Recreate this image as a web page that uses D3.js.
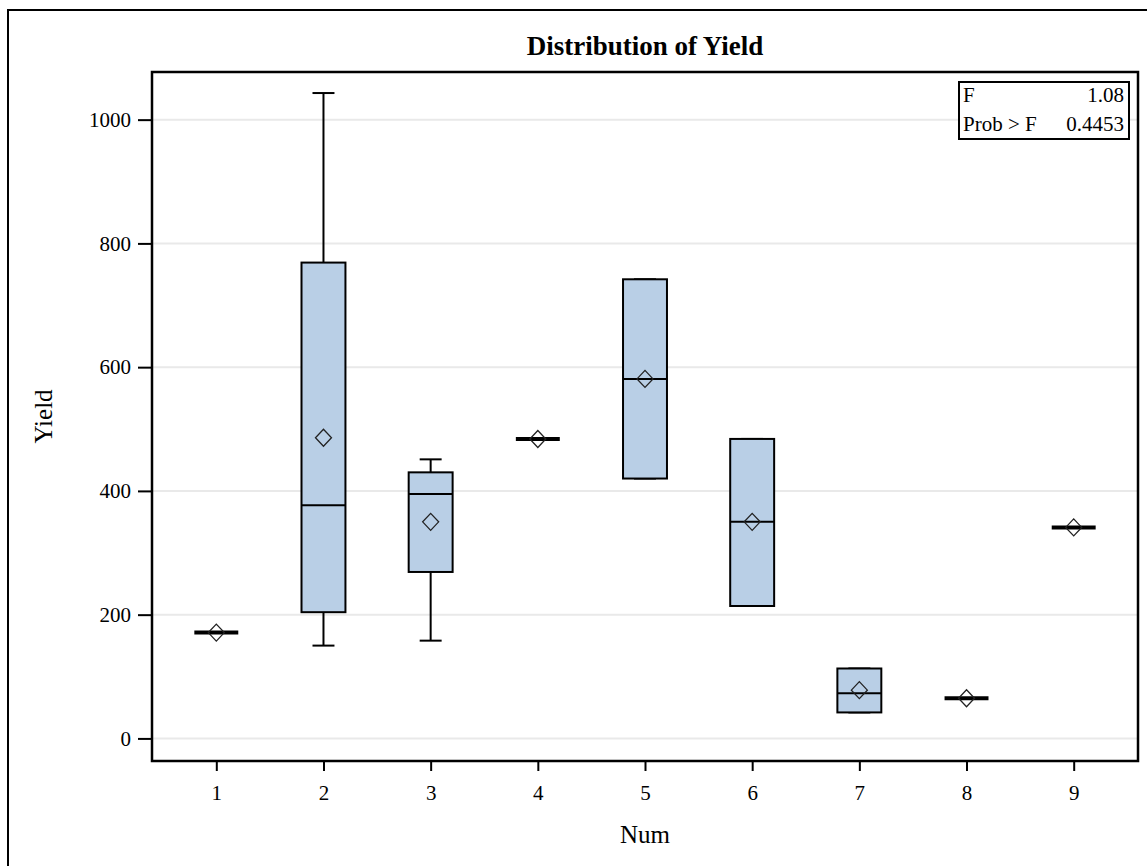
<!DOCTYPE html>
<html>
<head>
<meta charset="utf-8">
<script src="https://cdn.jsdelivr.net/npm/d3@7"></script>
<style>
  html, body { margin: 0; padding: 0; background: #fff; }
  svg { display: block; }
  text { font-family: "Liberation Serif", "DejaVu Serif", serif; fill: #000; }
</style>
</head>
<body>
<svg id="chart" width="1147" height="866"></svg>
<script>
// Yield summary statistics per Num group
const categories  = ["1", "2", "3", "4", "5", "6", "7", "8", "9"];
const whiskerLow  = [171, 150, 158, 484, 420, 214, 42, 65, 341];
const q1          = [171, 204, 269, 484, 420, 214, 42, 65, 341];
const medians     = [171, 377, 395, 484, 581, 350, 73, 65, 341];
const q3          = [171, 769, 430, 484, 742, 484, 113, 65, 341];
const whiskerHigh = [171, 1043, 451, 484, 742, 484, 113, 65, 341];
const means       = [171, 486, 350, 484, 581, 350, 78, 65, 341];
const yTicks      = [0, 200, 400, 600, 800, 1000];
const statLabels  = ["F", "Prob > F"];
const statValues  = ["1.08", "0.4453"];

const FONT = '"Liberation Serif", "DejaVu Serif", serif';
const svg = d3.select("#chart");
const plot = { left: 152, top: 72, right: 1138, bottom: 761 };

// Outer frame
svg.append("rect")
  .attr("x", 8).attr("y", 10).attr("width", 1160).attr("height", 880)
  .attr("fill", "none").attr("stroke", "#000").attr("stroke-width", 2);

const x = d3.scalePoint().domain(categories).range([plot.left, plot.right]).padding(0.6);
const y = d3.scaleLinear().domain([-36.5, 1077]).range([plot.bottom, plot.top]);
const boxW = x.step() * 0.41;
const capW = boxW / 2;

// Gridlines
svg.append("g").selectAll("line").data(yTicks).join("line")
  .attr("x1", plot.left).attr("x2", plot.right)
  .attr("y1", d => y(d)).attr("y2", d => y(d))
  .attr("stroke", "#e9e9e9").attr("stroke-width", 2);

// Axes
const xAxis = svg.append("g")
  .attr("transform", `translate(0,${plot.bottom})`)
  .call(d3.axisBottom(x).tickSize(10).tickPadding(8));
const yAxis = svg.append("g")
  .attr("transform", `translate(${plot.left},0)`)
  .call(d3.axisLeft(y).tickValues(yTicks).tickSize(14).tickPadding(7).tickFormat(d3.format("d")));
[xAxis, yAxis].forEach(g => {
  g.select(".domain").remove();
  g.selectAll(".tick line").attr("stroke", "#000").attr("stroke-width", 2);
  g.selectAll(".tick text")
    .style("font-family", FONT)
    .style("font-size", "21px").attr("fill", "#000");
});
xAxis.selectAll(".tick text").attr("dy", null).attr("y", 39);

// Boxes
const groups = svg.append("g").selectAll("g").data(categories).join("g");

// Whiskers
groups.append("line")
  .attr("x1", d => x(d)).attr("x2", d => x(d))
  .attr("y1", (d, i) => y(whiskerHigh[i])).attr("y2", (d, i) => y(q3[i]))
  .attr("stroke", "#000").attr("stroke-width", 2);
groups.append("line")
  .attr("x1", d => x(d)).attr("x2", d => x(d))
  .attr("y1", (d, i) => y(q1[i])).attr("y2", (d, i) => y(whiskerLow[i]))
  .attr("stroke", "#000").attr("stroke-width", 2);
groups.append("line")
  .attr("x1", d => x(d) - capW / 2).attr("x2", d => x(d) + capW / 2)
  .attr("y1", (d, i) => y(whiskerHigh[i])).attr("y2", (d, i) => y(whiskerHigh[i]))
  .attr("stroke", "#000").attr("stroke-width", 2);
groups.append("line")
  .attr("x1", d => x(d) - capW / 2).attr("x2", d => x(d) + capW / 2)
  .attr("y1", (d, i) => y(whiskerLow[i])).attr("y2", (d, i) => y(whiskerLow[i]))
  .attr("stroke", "#000").attr("stroke-width", 2);

// Interquartile box
groups.append("rect")
  .attr("x", d => x(d) - boxW / 2).attr("width", boxW)
  .attr("y", (d, i) => y(q3[i])).attr("height", (d, i) => y(q1[i]) - y(q3[i]))
  .attr("fill", "#b9cfe6").attr("stroke", "#000").attr("stroke-width", 2);

// Median
groups.append("line")
  .attr("x1", d => x(d) - boxW / 2).attr("x2", d => x(d) + boxW / 2)
  .attr("y1", (d, i) => y(medians[i])).attr("y2", (d, i) => y(medians[i]))
  .attr("stroke", "#000")
  .attr("stroke-width", (d, i) => q1[i] === q3[i] ? 4 : 2);

// Mean marker
groups.append("path")
  .attr("transform", (d, i) => `translate(${x(d)},${y(means[i])})`)
  .attr("d", "M0,-8.5L8,0L0,8.5L-8,0Z")
  .attr("fill", "none").attr("stroke", "#222").attr("stroke-width", 1.3);

// Plot frame
svg.append("rect")
  .attr("x", plot.left).attr("y", plot.top)
  .attr("width", plot.right - plot.left).attr("height", plot.bottom - plot.top)
  .attr("fill", "none").attr("stroke", "#000").attr("stroke-width", 2.5);

// Title and axis labels
svg.append("text").attr("x", (plot.left + plot.right) / 2).attr("y", 55)
  .attr("text-anchor", "middle").style("font-size", "27px").style("font-weight", "bold")
  .text("Distribution of Yield");
svg.append("text").attr("x", (plot.left + plot.right) / 2).attr("y", 843)
  .attr("text-anchor", "middle").style("font-size", "25px").text("Num");
svg.append("text")
  .attr("transform", `translate(52,${(plot.top + plot.bottom) / 2}) rotate(-90)`)
  .attr("text-anchor", "middle").style("font-size", "25px").text("Yield");

// Statistics inset
const inset = { x: 959, y: 82, w: 170, h: 57 };
svg.append("rect")
  .attr("x", inset.x).attr("y", inset.y).attr("width", inset.w).attr("height", inset.h)
  .attr("fill", "#fff").attr("stroke", "#000").attr("stroke-width", 2);
const rowBase = [102, 131];
statLabels.forEach((lab, i) => {
  svg.append("text").attr("x", inset.x + 4).attr("y", rowBase[i])
    .style("font-size", "21px").text(lab);
  svg.append("text").attr("x", inset.x + inset.w - 5).attr("y", rowBase[i])
    .attr("text-anchor", "end").style("font-size", "21px").text(statValues[i]);
});
</script>
</body>
</html>
